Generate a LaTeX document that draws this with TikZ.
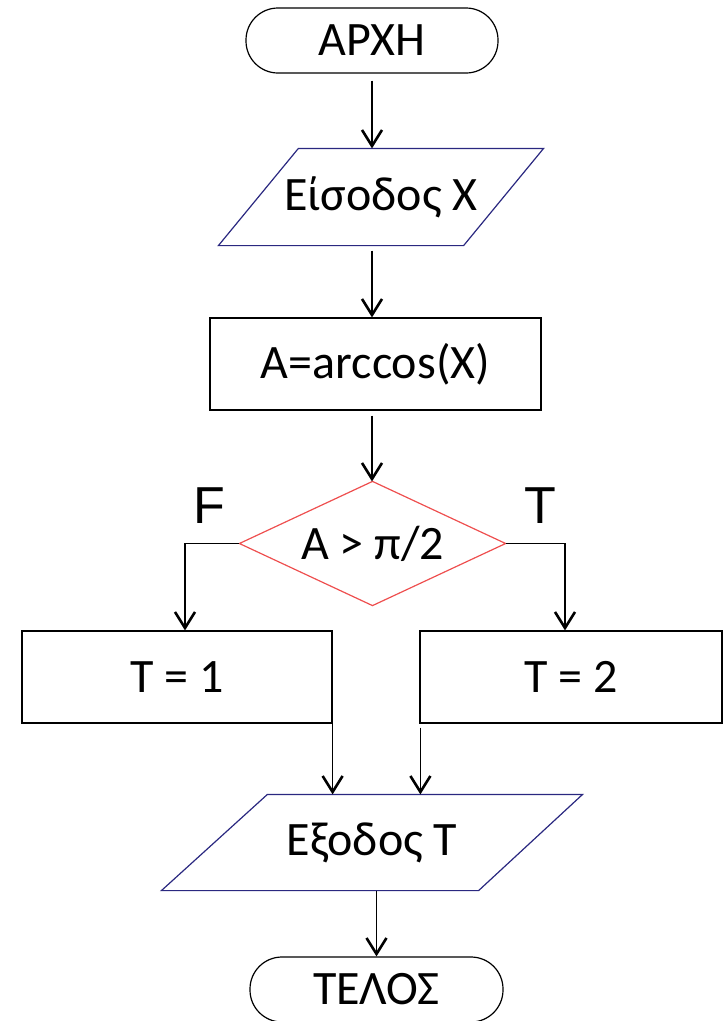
\documentclass[tikz,border=0pt]{standalone}
\usepackage{fontspec}
\setmainfont{Carlito}
\newfontfamily\labelfont{Liberation Sans}
\usetikzlibrary{arrows.meta}

\definecolor{ionavy}{RGB}{42,40,128}
\definecolor{decred}{RGB}{238,78,78}

\begin{document}
\begin{tikzpicture}[x=1pt, y=-1pt, line width=1.2pt,
    every node/.style={font=\fontsize{48}{56}\selectfont},
    >={Straight Barb[length=16pt,width=20pt,line width=2.6pt]},
    term/.style={draw, rounded corners=32pt, minimum width=252pt, minimum height=65pt},
    box/.style={draw, minimum height=92pt},
    hidden/.style={inner sep=0pt},
    io/.style={draw=ionavy},
    dec/.style={draw=decred},
    lbl/.style={font=\labelfont\fontsize{52}{60}\selectfont}]
    \useasboundingbox (0,0) rectangle (723,1021);

    % nodes
    \node[term] (start) at (372,40.5) {ΑΡΧΗ};
    \node[hidden, minimum width=324pt, minimum height=96pt] (in) at (381,197) {Είσοδος X};
    \node[box, minimum width=331pt] (calc) at (375.5,364) {A=arccos(X)};
    \node[hidden, minimum width=265pt, minimum height=123pt] (cond) at (372.5,543.5) {A > π/2};
    \node[box, minimum width=310pt] (t1) at (177,677) {T = 1};
    \node[box, minimum width=302pt] (t2) at (571,677) {T = 2};
    \node[hidden, minimum width=420pt, minimum height=95pt] (out) at (372,842.5) {Εξοδος T};
    \node[term, minimum width=253pt] (end) at (376.5,989.5) {ΤΕΛΟΣ};

    % branch labels
    \node[lbl] (f) at (209,505.5) {F};
    \node[lbl] (t) at (540,505.5) {T};

    % shapes
    \draw[io] ([xshift=80pt]in.north west) -- (in.north east) -- ([xshift=-80pt]in.south east) -- (in.south west) -- cycle;
    \draw[dec] (cond.north) -- (cond.east) -- (cond.south) -- (cond.west) -- cycle;
    \draw[io] ([xshift=106pt]out.north west) -- (out.north east) -- ([xshift=-104pt]out.south east) -- (out.south west) -- cycle;

    % edges
    \draw[->, shorten <=7pt] (start.south) -- (in.north -| start);
    \draw[->, shorten <=5pt] (in.south -| start) -- (calc.north -| start);
    \draw[->, shorten <=5pt] (calc.south -| start) -- (cond.north -| start);
    \draw[->] (cond.west) -| ([xshift=8pt]t1.north);
    \draw[->] (cond.east) -| ([xshift=-6pt]t2.north);
    \draw[->] (t1.south east) -- (t1.south east |- out.north);
    \draw[->, shorten <=4pt] ([xshift=1pt]t2.south west) -- ([xshift=1pt]t2.south west |- out.north);
    \draw[->] (out.south -| end) -- (end.north);
\end{tikzpicture}
\end{document}
